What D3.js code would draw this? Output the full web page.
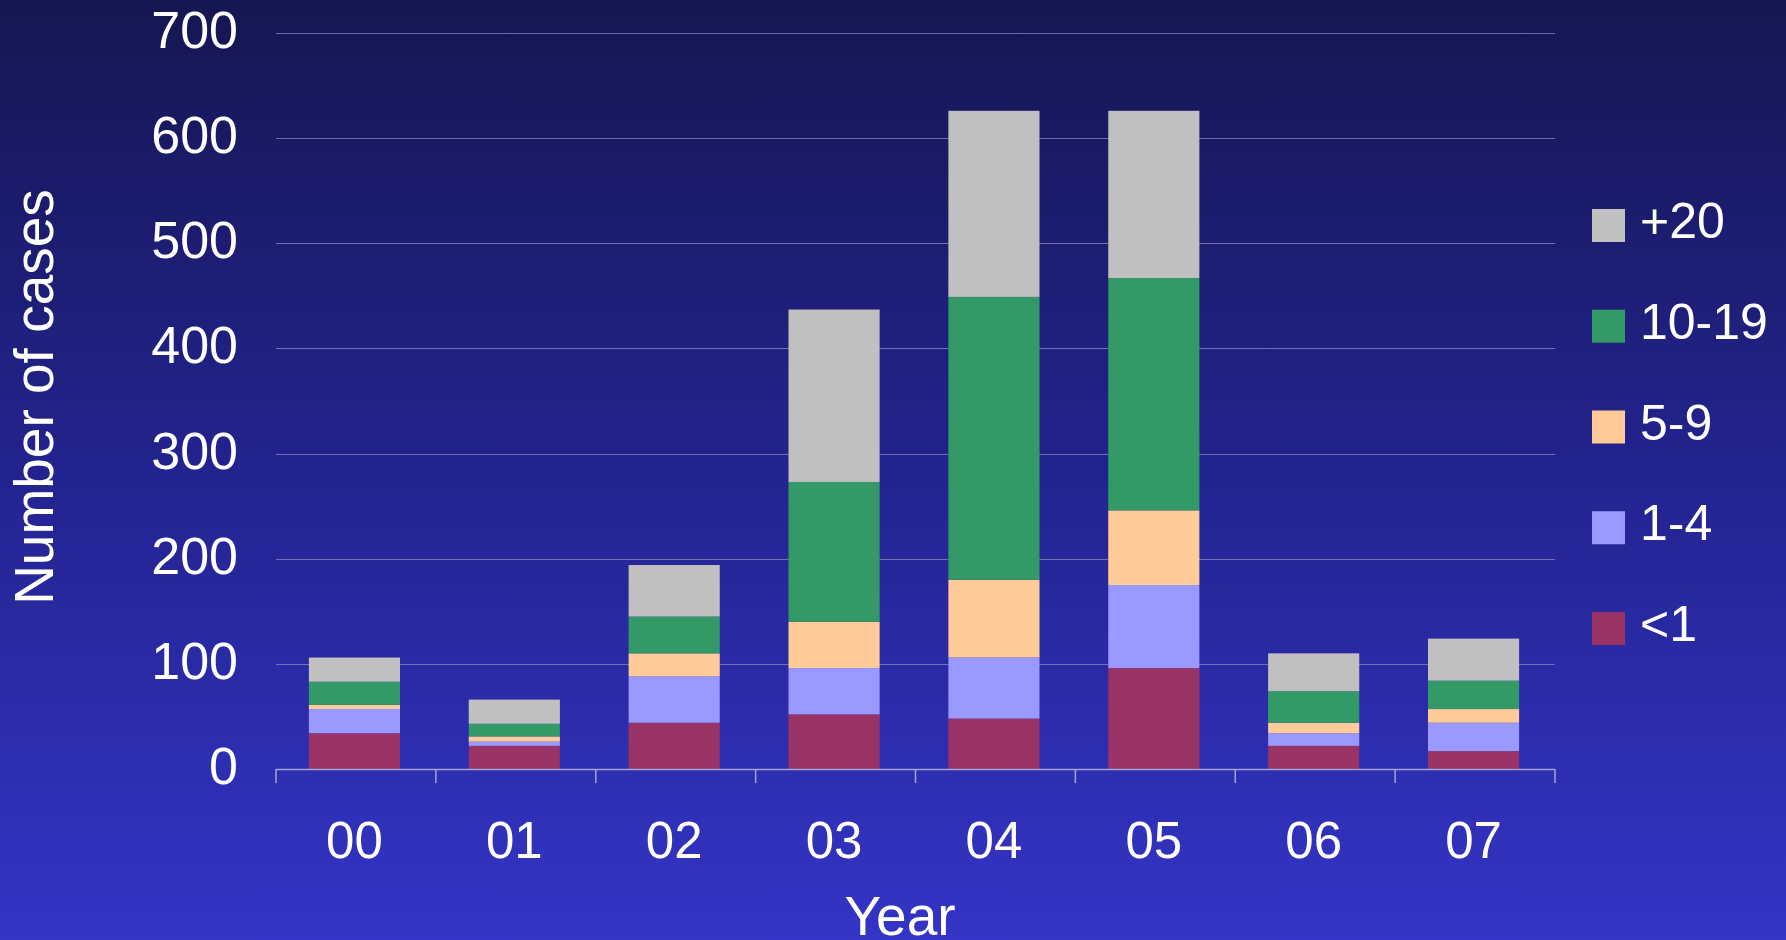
<!DOCTYPE html>
<html>
<head>
<meta charset="utf-8">
<script src="https://cdn.jsdelivr.net/npm/d3@7"></script>
<style>
  html, body { margin: 0; padding: 0; background: #1a1a60; }
  svg { display: block; }
  text { font-family: "Liberation Sans", Arial, Helvetica, sans-serif; fill: #ffffff; }
</style>
</head>
<body>
<svg id="chart" width="1786" height="940"></svg>
<script>
// ---- Data ----
const years = ["00", "01", "02", "03", "04", "05", "06", "07"];
const seriesNames = ["<1", "1-4", "5-9", "10-19", "+20"];
const ageLt1   = [34, 22, 44, 52, 48, 96, 22, 17];
const age1to4  = [23, 4, 44, 44, 58, 79, 12, 27];
const age5to9  = [4, 5, 22, 44, 74, 71, 10, 13];
const age10to19 = [22, 12, 35, 133, 269, 221, 30, 27];
const age20plus = [23, 23, 49, 164, 177, 159, 36, 40];
const yTicks = [0, 100, 200, 300, 400, 500, 600, 700];
const seriesColors = ["#993366", "#9999ff", "#ffcc99", "#339966", "#c0c0c0"];
const legendOrder = ["+20", "10-19", "5-9", "1-4", "<1"];

const seriesValues = [ageLt1, age1to4, age5to9, age10to19, age20plus];
const rows = years.map((y, i) => {
  const r = { year: y };
  seriesNames.forEach((s, k) => r[s] = seriesValues[k][i]);
  return r;
});

const svg = d3.select("#chart");
const W = 1786, H = 940;

// background gradient
const defs = svg.append("defs");
const grad = defs.append("linearGradient").attr("id", "bg").attr("x1", 0).attr("y1", 0).attr("x2", 0).attr("y2", 1);
grad.append("stop").attr("offset", "0%").attr("stop-color", "#161652");
grad.append("stop").attr("offset", "50%").attr("stop-color", "#23238f");
grad.append("stop").attr("offset", "100%").attr("stop-color", "#3434c6");
svg.append("rect").attr("width", W).attr("height", H).attr("fill", "url(#bg)");

const plotL = 276, plotR = 1555, plotT = 33, plotB = 769;

const x = d3.scaleBand().domain(years).range([plotL, plotR]).padding(0);
const y = d3.scaleLinear().domain([0, 700]).range([plotB, plotT]);

// gridlines
svg.append("g").selectAll("line")
  .data(yTicks.filter(t => t > 0))
  .join("line")
  .attr("x1", plotL).attr("x2", plotR)
  .attr("y1", d => Math.round(y(d)) + 0.5).attr("y2", d => Math.round(y(d)) + 0.5)
  .attr("stroke", "#8a8ac0").attr("stroke-opacity", 0.75).attr("stroke-width", 1.2);

// stacked bars
const stack = d3.stack().keys(seriesNames);
const stacked = stack(rows);
const barW = x.bandwidth() * 0.57;
const color = d3.scaleOrdinal().domain(seriesNames).range(seriesColors);

svg.append("g").selectAll("g")
  .data(stacked)
  .join("g")
  .attr("fill", d => color(d.key))
  .selectAll("rect")
  .data(d => d)
  .join("rect")
  .attr("x", d => x(d.data.year) + (x.bandwidth() - barW) / 2 - 1.5)
  .attr("width", barW)
  .attr("y", d => y(d[1]))
  .attr("height", d => y(d[0]) - y(d[1]));

// x axis
const xAxis = svg.append("g").attr("transform", `translate(0,${plotB})`);
xAxis.append("line").attr("x1", plotL).attr("x2", plotR).attr("y1", 0.5).attr("y2", 0.5)
  .attr("stroke", "#a4a4d4").attr("stroke-width", 1.5);
const boundaries = years.map(yr => x(yr)).concat([plotR]);
xAxis.selectAll("line.tick").data(boundaries).join("line")
  .attr("class", "tick")
  .attr("x1", d => d).attr("x2", d => d).attr("y1", 0).attr("y2", 14)
  .attr("stroke", "#a4a4d4").attr("stroke-width", 1.5);
xAxis.selectAll("text").data(years).join("text")
  .attr("x", d => x(d) + x.bandwidth() / 2 - 1.5)
  .attr("y", 89)
  .attr("text-anchor", "middle")
  .attr("font-size", 51)
  .text(d => d);

// y axis labels
svg.append("g").selectAll("text").data(yTicks).join("text")
  .attr("x", 238)
  .attr("y", d => y(d) + 15)
  .attr("text-anchor", "end")
  .attr("font-size", 52)
  .text(d => d);

// axis titles
svg.append("text")
  .attr("transform", "translate(53,397) rotate(-90)")
  .attr("text-anchor", "middle")
  .attr("font-size", 55)
  .text("Number of cases");
svg.append("text")
  .attr("x", 900).attr("y", 935)
  .attr("text-anchor", "middle")
  .attr("font-size", 55)
  .text("Year");

// legend
const legendTop = d3.scalePoint().domain(legendOrder).range([209, 612]);
const lg = svg.append("g").selectAll("g").data(legendOrder).join("g")
  .attr("transform", d => `translate(1592,${legendTop(d)})`);
lg.append("rect").attr("width", 33).attr("height", 33).attr("fill", d => color(d));
lg.append("text").attr("x", 48).attr("y", 29).attr("font-size", 50).text(d => d);
</script>
</body>
</html>
